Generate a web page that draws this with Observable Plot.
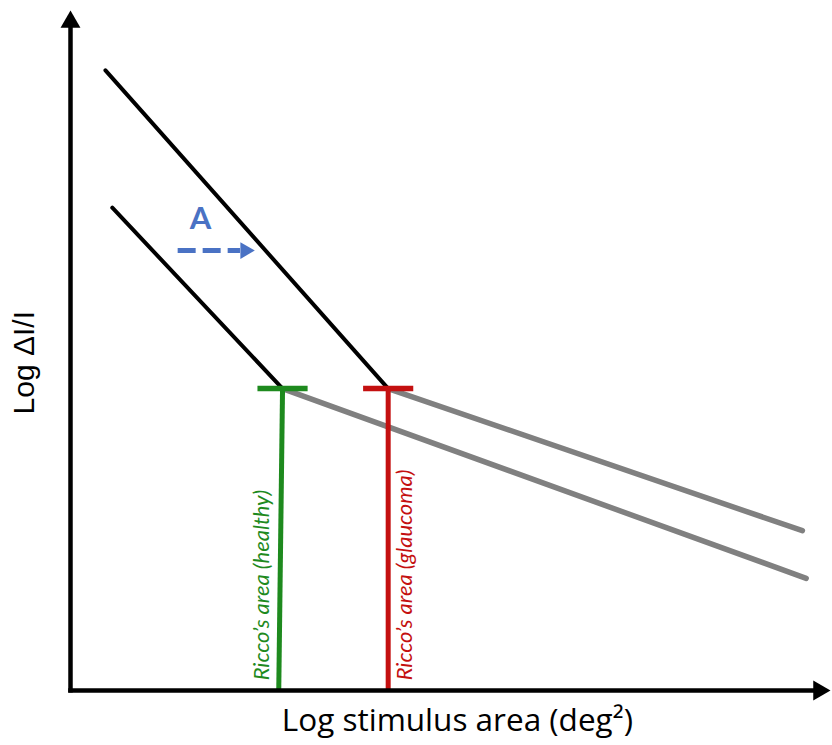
<!DOCTYPE html>
<html><head><meta charset="utf-8">
<script src="https://cdn.jsdelivr.net/npm/d3@7"></script>
<script src="https://cdn.jsdelivr.net/npm/@observablehq/plot@0.6"></script>
<style>body{margin:0;background:#fff}</style>
</head><body><div id="chart"></div>
<script>
// Conceptual Ricco's-area plot (abstract log units, 0–10 on both axes)
const conditions = ["healthy", "glaucoma"];
const conditionColors = ["#1e8a1e", "#c41010"];
const steepX = [[0.55, 2.79], [0.46, 4.18]];      // complete spatial summation (slope −1)
const steepY = [[7.10, 4.44], [9.12, 4.44]];
const shallowX = [[2.79, 9.68], [4.18, 9.63]];    // partial summation
const shallowY = [[4.44, 1.65], [4.44, 2.35]];
const riccoTopX = [2.79, 4.18];                    // Ricco's area
const riccoBottomX = [2.74, 4.18];
const riccoLevel = 4.44;
const riccoLabels = ["Ricco\u2019s area (healthy)", "Ricco\u2019s area (glaucoma)"];
const riccoLabelX = [2.52, 4.40];
const shiftFromX = 1.41, shiftToX = 2.43, shiftY = 6.47; // arrow "A"
const axisMax = 10;

const steep = conditions.flatMap((c, i) => steepX[i].map((x, j) => ({c, x, y: steepY[i][j]})));
const shallow = conditions.flatMap((c, i) => shallowX[i].map((x, j) => ({c, x, y: shallowY[i][j]})));
const ricco = conditions.map((c, i) => ({c, color: conditionColors[i], top: riccoTopX[i], bottom: riccoBottomX[i], label: riccoLabels[i], lx: riccoLabelX[i]}));

const capHalf = 0.33;

const chart = Plot.plot({
  width: 832, height: 745,
  marginLeft: 70, marginRight: 2, marginTop: 10, marginBottom: 55,
  x: {domain: [0, axisMax], axis: null},
  y: {domain: [0, axisMax], axis: null},
  style: {background: "white", overflow: "visible", fontFamily: "Lato, sans-serif"},
  marks: [
    Plot.line(shallow, {x: "x", y: "y", z: "c", stroke: "#808080", strokeWidth: 5.5}),
    Plot.line(steep, {x: "x", y: "y", z: "c", stroke: "black", strokeWidth: 4}),
    Plot.link(ricco, {x1: "top", x2: "bottom", y1: riccoLevel, y2: 0, stroke: "color", strokeWidth: 5}),
    Plot.link(ricco, {x1: d => d.top - capHalf, x2: d => d.top + capHalf, y1: riccoLevel, y2: riccoLevel, stroke: "color", strokeWidth: 5.5}),
    Plot.text(ricco, {x: "lx", y: 0.15, text: "label", fill: "color", rotate: -90, textAnchor: "start", lineAnchor: "middle", fontSize: 22, fontStyle: "italic", fontFamily: "Lato, sans-serif"}),
    Plot.link([0], {x1: shiftFromX, x2: shiftToX - 0.2, y1: shiftY, y2: shiftY, stroke: "#4a72c4", strokeWidth: 5, strokeDasharray: "18,7"}),
    Plot.dot([0], {x: shiftToX, y: shiftY, symbol: "triangle", r: 6.2, rotate: 90, dx: -10, fill: "#4a72c4", stroke: "none"}),
    Plot.text(["A"], {x: 1.71, y: 6.94, fontSize: 31, fontWeight: "bold", fill: "#4a72c4", fontFamily: "Lato, sans-serif"}),
    Plot.link([0], {x1: 0, x2: 0, y1: -0.03, y2: 9.8, stroke: "black", strokeWidth: 4.5}),
    Plot.link([0], {x1: -0.03, x2: 9.8, y1: 0, y2: 0, stroke: "black", strokeWidth: 4.5}),
    Plot.dot([0], {x: 0, y: axisMax, symbol: "triangle", r: 7.4, dy: 11.5, fill: "black", stroke: "none"}),
    Plot.dot([0], {x: axisMax, y: 0, symbol: "triangle", r: 7.4, rotate: 90, dx: -11.5, fill: "black", stroke: "none"}),
    Plot.text(["Log stimulus area (deg\u00b2)"], {x: 5.09, y: -0.44, fontSize: 31.5, fill: "black", fontFamily: "Open Sans, sans-serif"}),
    Plot.text(["Log \u0394I/I"], {x: -0.61, y: 4.82, rotate: -90, fontSize: 30, fill: "black", fontFamily: "Liberation Sans, Arial, sans-serif"})
  ]
});
document.getElementById("chart").append(chart);
</script>
</body></html>
